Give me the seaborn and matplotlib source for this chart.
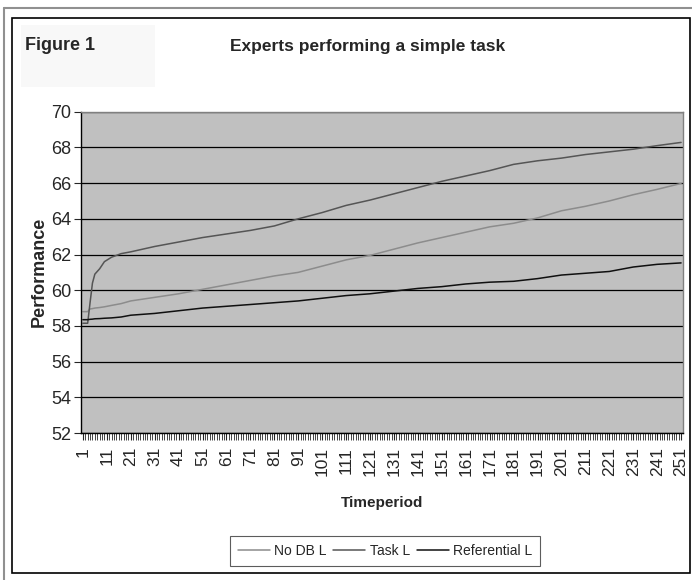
import numpy as np
import pandas as pd
import seaborn as sns
import matplotlib.pyplot as plt
from matplotlib.patches import Rectangle
from matplotlib.lines import Line2D

# values at selected time periods
timeperiod = [1, 3, 4, 5, 6, 8, 10, 13, 17, 21, 31, 41, 51, 61, 71, 81, 91, 101, 111, 121,
              131, 141, 151, 161, 171, 181, 191, 201, 211, 221, 231, 241, 251]
no_db_l = [58.8, 58.8, 58.95, 58.97, 59.0, 59.03, 59.07, 59.15, 59.25, 59.4, 59.6, 59.8, 60.05,
           60.3, 60.55, 60.8, 61.0, 61.35, 61.7, 61.95, 62.3, 62.65, 62.95, 63.25, 63.55, 63.75,
           64.05, 64.45, 64.7, 65.0, 65.35, 65.65, 65.98]
task_l = [58.15, 58.15, 59.3, 60.4, 60.9, 61.2, 61.6, 61.85, 62.05, 62.15, 62.45, 62.7, 62.95,
          63.15, 63.35, 63.6, 64.0, 64.35, 64.75, 65.05, 65.4, 65.75, 66.1, 66.4, 66.7, 67.05,
          67.25, 67.4, 67.6, 67.75, 67.9, 68.1, 68.28]
referential_l = [58.35, 58.35, 58.37, 58.38, 58.4, 58.41, 58.43, 58.45, 58.5, 58.6, 58.7, 58.85,
                 59.0, 59.1, 59.2, 59.3, 59.4, 59.55, 59.7, 59.8, 59.95, 60.1, 60.2, 60.35, 60.45,
                 60.5, 60.65, 60.85, 60.95, 61.05, 61.3, 61.45, 61.53]
series_names = ["No DB L", "Task L", "Referential L"]
series_colors = ["#8c8c8c", "#555555", "#101010"]

df = pd.DataFrame({"Timeperiod": timeperiod, "No DB L": no_db_l,
                   "Task L": task_l, "Referential L": referential_l})
long_df = df.melt(id_vars="Timeperiod", var_name="series", value_name="Performance")

sns.set_style("white")
plt.rcParams["font.family"] = ["Liberation Sans", "DejaVu Sans"]

fig = plt.figure(figsize=(6.92, 5.8), dpi=100)
ax = fig.add_axes([0.117, 0.2534, 0.870, 0.554])
ax.set_facecolor("#c0c0c0")

sns.lineplot(data=long_df, x="Timeperiod", y="Performance", hue="series",
             hue_order=series_names, palette=series_colors, linewidth=1.1,
             ax=ax, legend=False)

ax.set_ylim(52, 70)
ax.set_yticks(np.arange(52, 71, 2))
ax.set_xlim(0.2, 251.8)
ax.set_xticks(np.arange(1, 252, 10))
ax.set_xticks(np.arange(1, 252, 1), minor=True)
ax.tick_params(axis="x", which="major", labelrotation=90, labelsize=12.5, length=5,
               width=0.8, direction="out", bottom=True, pad=5)
ax.tick_params(axis="x", which="minor", length=5, width=0.6, direction="out", bottom=True)
ax.tick_params(axis="y", labelsize=13, length=5, width=0.8, direction="out", left=True, pad=2)
ax.yaxis.grid(True, color="black", linewidth=0.9)
ax.set_axisbelow(True)
for side in ["top", "right"]:
    ax.spines[side].set_color("#808080")
    ax.spines[side].set_linewidth(1)
for side in ["left", "bottom"]:
    ax.spines[side].set_color("black")
    ax.spines[side].set_linewidth(1)

ax.set_ylabel("Performance", fontsize=13, fontweight="bold", labelpad=2)
ax.set_xlabel("Timeperiod", fontsize=11, fontweight="bold")
ax.xaxis.set_label_coords(0.5, -0.197)

# headings
fig.patches.append(Rectangle((21 / 692, 1 - 87 / 580), 134 / 692, 62 / 580,
                             transform=fig.transFigure, facecolor="#f8f8f8",
                             edgecolor="none", zorder=0))
fig.text(25 / 692, 1 - 46 / 580, "Figure 1", fontsize=13, fontweight="bold",
         va="center", ha="left")
fig.text(368 / 692, 1 - 46 / 580, "Experts performing a simple task", fontsize=12.5,
         fontweight="bold", va="center", ha="center")

# legend
handles = [Line2D([0], [0], color=c, linewidth=1.1) for c in series_colors]
leg = fig.legend(handles, series_names, loc="center", bbox_to_anchor=(385 / 692, 1 - 551 / 580),
                 ncol=3, frameon=True, fontsize=10, handlelength=2.3, handletextpad=0.3,
                 columnspacing=0.5, borderpad=0.6, fancybox=False)
leg.get_frame().set_edgecolor("#333333")
leg.get_frame().set_linewidth(0.8)

# outer frame
fig.patches.append(Rectangle((12 / 692, 1 - 573 / 580), 678 / 692, 555 / 580,
                             transform=fig.transFigure, facecolor="none",
                             edgecolor="black", linewidth=1.2))
fig.lines.append(Line2D([4 / 692, 4 / 692], [0.0, 1 - 8 / 580], transform=fig.transFigure,
                        color="#909090", linewidth=1.5))
fig.lines.append(Line2D([4 / 692, 1.0], [1 - 8 / 580, 1 - 8 / 580], transform=fig.transFigure,
                        color="#909090", linewidth=1.5))

fig.savefig("out.png", dpi=100)
